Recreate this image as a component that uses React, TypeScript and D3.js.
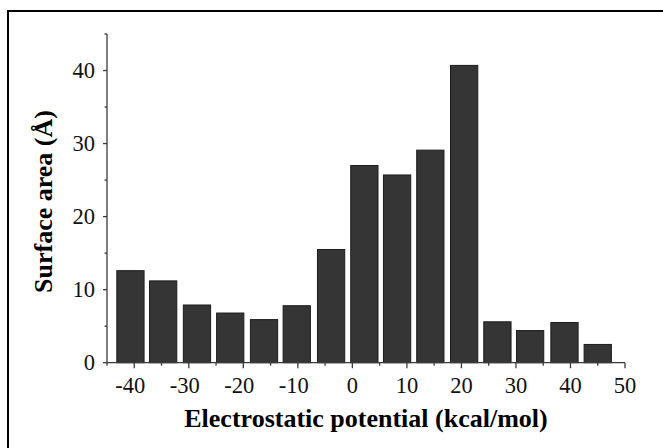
import React from "react";
import * as d3 from "d3";

// histogram bins: centre of each bin (kcal/mol) and surface area
const binCenters = [-40.7, -34.7, -28.5, -22.4, -16.2, -10.2, -3.9, 2.2, 8.2, 14.3, 20.5, 26.6, 32.6, 38.9, 45.0];
const areas = [12.6, 11.2, 7.9, 6.8, 5.9, 7.8, 15.5, 27.0, 25.7, 29.1, 40.7, 5.6, 4.4, 5.5, 2.5];
const xTicks = [-40, -30, -20, -10, 0, 10, 20, 30, 40, 50];
const yTicks = [0, 10, 20, 30, 40];
const binWidth = 5;

const W = 663;
const H = 448;

export default function App() {
  const x = d3.scaleLinear().domain([-45, 50]).range([107, 625]);
  const y = d3.scaleLinear().domain([0, 45]).range([362.7, 34]);

  const xMinor = d3.range(-45, 50, 10);
  const yMinor = d3.range(5, 50, 10);
  const axisColor = "#3a3a3a";
  const serif = "'Liberation Serif', 'Times New Roman', serif";

  return (
    <svg width={W} height={H} style={{ position: "absolute", left: 0, top: 0 }}>
      <rect x={0} y={0} width={W} height={H} fill="#fff" />
      {/* frame */}
      <rect x={8} y={11} width={W + 20} height={H + 20} fill="none" stroke="#000" strokeWidth={2} />

      {/* bars */}
      {areas.map((v, i) => (
        <rect
          key={i}
          x={x(binCenters[i] - binWidth / 2)}
          y={y(v)}
          width={x(binCenters[i] + binWidth / 2) - x(binCenters[i] - binWidth / 2)}
          height={y(0) - y(v)}
          fill="#353535"
          stroke="#1c1c1c"
          strokeWidth={1}
        />
      ))}

      {/* y axis */}
      <line x1={x(-45)} x2={x(-45)} y1={y(45)} y2={y(0)} stroke={axisColor} strokeWidth={1.3} />
      {yTicks.map((t) => (
        <g key={t}>
          <line x1={x(-45) - 4} x2={x(-45)} y1={y(t)} y2={y(t)} stroke={axisColor} strokeWidth={1.3} />
          <text
            x={x(-45) - 12}
            y={y(t)}
            textAnchor="end"
            dominantBaseline="central"
            fontFamily={serif}
            fontSize={22.5}
            fill="#111"
          >
            {t}
          </text>
        </g>
      ))}
      {yMinor.map((t) => (
        <line key={t} x1={x(-45) - 2.5} x2={x(-45)} y1={y(t)} y2={y(t)} stroke={axisColor} strokeWidth={1.3} />
      ))}

      {/* x axis */}
      <line x1={x(-45)} x2={x(50)} y1={y(0)} y2={y(0)} stroke={axisColor} strokeWidth={1.3} />
      {xTicks.map((t) => (
        <g key={t}>
          <line x1={x(t)} x2={x(t)} y1={y(0)} y2={y(0) + 5.5} stroke={axisColor} strokeWidth={1.3} />
          <text
            x={x(t) - (t < 0 ? 4 : 0)}
            y={393}
            textAnchor="middle"
            fontFamily={serif}
            fontSize={22.5}
            fill="#111"
          >
            {t}
          </text>
        </g>
      ))}
      {xMinor.map((t) => (
        <line key={t} x1={x(t)} x2={x(t)} y1={y(0)} y2={y(0) + 3} stroke={axisColor} strokeWidth={1.3} />
      ))}

      {/* axis titles */}
      <text
        x={(x(-45) + x(50)) / 2}
        y={427}
        textAnchor="middle"
        fontFamily={serif}
        fontWeight="bold"
        fontSize={26}
        fill="#000"
      >
        Electrostatic potential (kcal/mol)
      </text>
      <text
        transform={`translate(52, ${(110 + 293) / 2}) rotate(-90)`}
        textAnchor="middle"
        fontFamily={serif}
        fontWeight="bold"
        fontSize={26}
        fill="#000"
      >
        Surface area (Å)
      </text>
    </svg>
  );
}
